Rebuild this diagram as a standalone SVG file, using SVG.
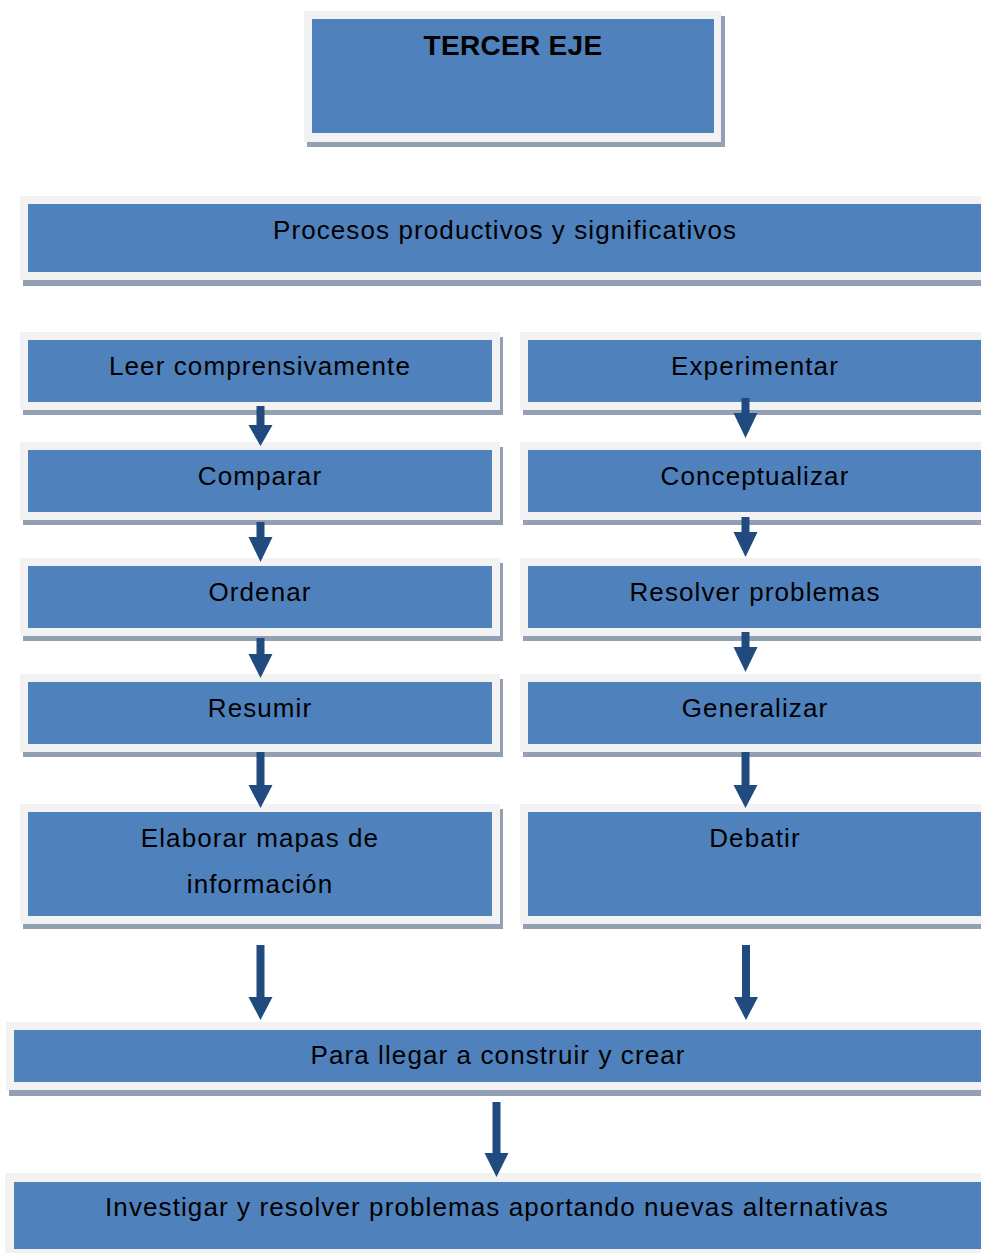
<svg xmlns="http://www.w3.org/2000/svg" width="981" height="1253" viewBox="0 0 981 1253">
  <style>
    .sh { fill: #939fb3; }
    .fr { fill: #f2f2f2; }
    .bx { fill: #4f81bd; }
    .t { font-family: "Liberation Sans", Arial, sans-serif; font-size: 26px; letter-spacing: 1.1px; fill: #000; text-anchor: middle; }
    .tb { font-family: "Liberation Sans", Arial, sans-serif; font-size: 28px; font-weight: bold; letter-spacing: 0.3px; fill: #000; text-anchor: middle; }
    .ar { fill: #214a7e; }
  </style>
  <rect width="981" height="1253" fill="#ffffff"/>

  <g id="tercer-eje">
    <rect class="sh" x="307" y="16" width="418" height="131"/>
    <rect class="fr" x="304" y="11" width="417" height="131"/>
    <rect class="bx" x="312" y="19" width="402" height="114"/>
    <text class="tb" x="513" y="55">TERCER EJE</text>
  </g>

  <g id="procesos">
    <rect class="sh" x="23" y="201" width="970" height="85"/>
    <rect class="fr" x="20" y="196" width="970" height="84"/>
    <rect class="bx" x="28" y="204" width="962" height="68"/>
    <text class="t" x="505" y="239">Procesos productivos y significativos</text>
  </g>

  <g id="leer">
    <rect class="sh" x="23" y="337" width="480" height="78"/>
    <rect class="fr" x="20" y="332" width="480" height="78"/>
    <rect class="bx" x="28" y="340" width="464" height="62"/>
    <text class="t" x="260" y="375">Leer comprensivamente</text>
  </g>
  <g id="comparar">
    <rect class="sh" x="23" y="447" width="480" height="78"/>
    <rect class="fr" x="20" y="442" width="480" height="78"/>
    <rect class="bx" x="28" y="450" width="464" height="62"/>
    <text class="t" x="260" y="485">Comparar</text>
  </g>
  <g id="ordenar">
    <rect class="sh" x="23" y="563" width="480" height="78"/>
    <rect class="fr" x="20" y="558" width="480" height="78"/>
    <rect class="bx" x="28" y="566" width="464" height="62"/>
    <text class="t" x="260" y="601">Ordenar</text>
  </g>
  <g id="resumir">
    <rect class="sh" x="23" y="679" width="480" height="78"/>
    <rect class="fr" x="20" y="674" width="480" height="78"/>
    <rect class="bx" x="28" y="682" width="464" height="62"/>
    <text class="t" x="260" y="717">Resumir</text>
  </g>
  <g id="elaborar">
    <rect class="sh" x="23" y="809" width="480" height="120"/>
    <rect class="fr" x="20" y="804" width="480" height="120"/>
    <rect class="bx" x="28" y="812" width="464" height="104"/>
    <text class="t" x="260" y="847">Elaborar mapas de</text>
    <text class="t" x="260" y="893">información</text>
  </g>

  <g id="experimentar">
    <rect class="sh" x="523" y="337" width="470" height="78"/>
    <rect class="fr" x="520" y="332" width="470" height="78"/>
    <rect class="bx" x="528" y="340" width="462" height="62"/>
    <text class="t" x="755" y="375">Experimentar</text>
  </g>
  <g id="conceptualizar">
    <rect class="sh" x="523" y="447" width="470" height="78"/>
    <rect class="fr" x="520" y="442" width="470" height="78"/>
    <rect class="bx" x="528" y="450" width="462" height="62"/>
    <text class="t" x="755" y="485">Conceptualizar</text>
  </g>
  <g id="resolver">
    <rect class="sh" x="523" y="563" width="470" height="78"/>
    <rect class="fr" x="520" y="558" width="470" height="78"/>
    <rect class="bx" x="528" y="566" width="462" height="62"/>
    <text class="t" x="755" y="601">Resolver problemas</text>
  </g>
  <g id="generalizar">
    <rect class="sh" x="523" y="679" width="470" height="78"/>
    <rect class="fr" x="520" y="674" width="470" height="78"/>
    <rect class="bx" x="528" y="682" width="462" height="62"/>
    <text class="t" x="755" y="717">Generalizar</text>
  </g>
  <g id="debatir">
    <rect class="sh" x="523" y="809" width="470" height="120"/>
    <rect class="fr" x="520" y="804" width="470" height="120"/>
    <rect class="bx" x="528" y="812" width="462" height="104"/>
    <text class="t" x="755" y="847">Debatir</text>
  </g>

  <g id="para-llegar">
    <rect class="sh" x="9" y="1027" width="985" height="69"/>
    <rect class="fr" x="6" y="1022" width="985" height="68"/>
    <rect class="bx" x="14" y="1030" width="977" height="52"/>
    <text class="t" x="498" y="1064">Para llegar a construir y crear</text>
  </g>

  <g id="investigar">
    <rect class="sh" x="8" y="1178" width="985" height="90"/>
    <rect class="fr" x="5" y="1173" width="985" height="90"/>
    <rect class="bx" x="14" y="1182" width="977" height="67"/>
    <text class="t" x="497" y="1216">Investigar y resolver problemas aportando nuevas alternativas</text>
  </g>

  <g id="connectors">
    <polygon class="ar" points="256.5,406 264.5,406 264.5,425 272.5,425 260.5,446 248.5,425 256.5,425"/>
    <polygon class="ar" points="256.5,522 264.5,522 264.5,537 272.5,537 260.5,562 248.5,537 256.5,537"/>
    <polygon class="ar" points="256.5,638 264.5,638 264.5,654 272.5,654 260.5,678 248.5,654 256.5,654"/>
    <polygon class="ar" points="256.5,752 264.5,752 264.5,785 272.5,785 260.5,808 248.5,785 256.5,785"/>
    <polygon class="ar" points="256.5,945 264.5,945 264.5,997 272.5,997 260.5,1020 248.5,997 256.5,997"/>

    <polygon class="ar" points="741.5,398 749.5,398 749.5,413 757.5,413 745.5,438 733.5,413 741.5,413"/>
    <polygon class="ar" points="741.5,517 749.5,517 749.5,532 757.5,532 745.5,557 733.5,532 741.5,532"/>
    <polygon class="ar" points="741.5,632 749.5,632 749.5,647 757.5,647 745.5,672 733.5,647 741.5,647"/>
    <polygon class="ar" points="741.5,752 749.5,752 749.5,785 757.5,785 745.5,808 733.5,785 741.5,785"/>
    <polygon class="ar" points="742,945 750,945 750,997 758,997 746,1020 734,997 742,997"/>

    <polygon class="ar" points="492.5,1102 500.5,1102 500.5,1153 508.5,1153 496.5,1177 484.5,1153 492.5,1153"/>
  </g>
</svg>
